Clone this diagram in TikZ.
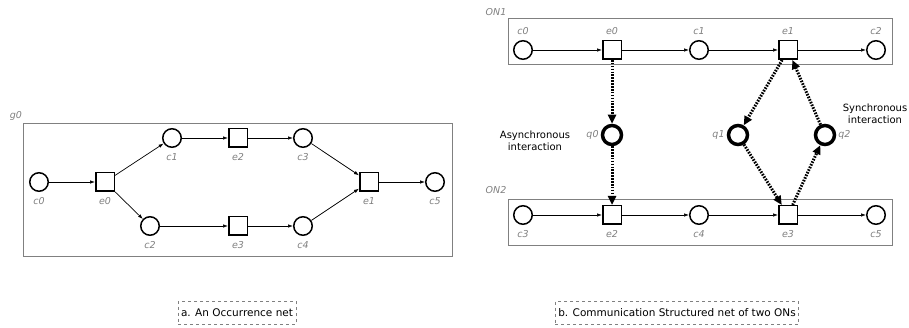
\documentclass[tikz,border=0pt]{standalone}
\usepackage{fontspec}
\setmainfont{DejaVu Sans}
\usetikzlibrary{arrows.meta}
\tikzset{
	place/.style = {circle, draw, line width=1.5pt, minimum size=18.5pt, inner sep=0pt},
	qplace/.style = {place, line width=3.5pt, minimum size=19pt},
	event/.style = {rectangle, draw, line width=1.5pt, minimum size=18.5pt, inner sep=0pt},
	lab/.style = {font=\fontsize{9.5}{10}\selectfont\itshape, text=gray, inner sep=1pt},
	flow/.style = {-{Latex[length=5pt,width=3.5pt]}, line width=0.7pt},
	msg/.style = {-{Triangle[length=9pt,width=8pt]}, line width=3pt, dash pattern=on 1.6pt off 1.3pt},
	net/.style = {draw=gray, line width=0.8pt},
	caption/.style = {draw=gray, dashed, line width=0.6pt, inner xsep=3pt, minimum height=23pt, font=\fontsize{10.5}{12}\selectfont},
	talk/.style = {align=center, inner sep=0pt, font=\fontsize{10}{11.5}\selectfont}
}
\begin{document}
\begin{tikzpicture}[x=1pt, y=-1pt, label distance=4pt]
	\useasboundingbox (0,0) rectangle (909,328);
	%\draw [help lines, step=50] (0,0) grid (909,328);

	% a. occurrence net
	\draw [net] (23,123) rectangle (452,256);
	\node [lab] (g0) at (16,116) {g0};
	\node [place, label={[lab]below:c0}] (gc0) at (39,182) {};
	\node [event, label={[lab]below:e0}] (ge0) at (105,182) {};
	\node [place, label={[lab]below:c1}] (gc1) at (172,138) {};
	\node [event, label={[lab]below:e2}] (ge2) at (238,138) {};
	\node [place, label={[lab]below:c3}] (gc3) at (303,138) {};
	\node [place, label={[lab]below:c2}] (gc2) at (150,226) {};
	\node [event, label={[lab]below:e3}] (ge3) at (238,226) {};
	\node [place, label={[lab]below:c4}] (gc4) at (303,226) {};
	\node [event, label={[lab]below:e1}] (ge1) at (369,182) {};
	\node [place, label={[lab]below:c5}] (gc5) at (435,182) {};
	\draw [flow] (gc0) -- (ge0);
	\draw [flow] (ge0) -- (gc1);
	\draw [flow] (ge0) -- (gc2);
	\draw [flow] (gc1) -- (ge2);
	\draw [flow] (ge2) -- (gc3);
	\draw [flow] (gc2) -- (ge3);
	\draw [flow] (ge3) -- (gc4);
	\draw [flow] (gc3) -- (ge1);
	\draw [flow] (gc4) -- (ge1);
	\draw [flow] (ge1) -- (gc5);
	\node [caption] (capa) at (237,313) {a. An Occurrence net};

	% b. two ONs
	\draw [net] (508,18) rectangle (892,64);
	\node [lab] (on1) at (496,12) {ON1};
	\node [place, label={[lab]above:c0}] (c0) at (523,50) {};
	\node [event, label={[lab]above:e0}] (e0) at (612,50) {};
	\node [place, label={[lab]above:c1}] (c1) at (699,50) {};
	\node [event, label={[lab]above:e1}] (e1) at (788,50) {};
	\node [place, label={[lab]above:c2}] (c2) at (876,50) {};
	\draw [flow] (c0) -- (e0);
	\draw [flow] (e0) -- (c1);
	\draw [flow] (c1) -- (e1);
	\draw [flow] (e1) -- (c2);

	\draw [net] (508,199) rectangle (892,245);
	\node [lab] (on2) at (496,190) {ON2};
	\node [place, label={[lab]below:c3}] (c3) at (523,215) {};
	\node [event, label={[lab]below:e2}] (e2) at (612,215) {};
	\node [place, label={[lab]below:c4}] (c4) at (699,215) {};
	\node [event, label={[lab]below:e3}] (e3) at (788,215) {};
	\node [place, label={[lab]below:c5}] (c5) at (876,215) {};
	\draw [flow] (c3) -- (e2);
	\draw [flow] (e2) -- (c4);
	\draw [flow] (c4) -- (e3);
	\draw [flow] (e3) -- (c5);

	\node [qplace, label={[lab, label distance=1pt]left:q0}] (q0) at (612,135) {};
	\node [qplace, label={[lab, label distance=1pt]left:q1}] (q1) at (738,135) {};
	\node [qplace, label={[lab, label distance=1pt]right:q2}] (q2) at (825,135) {};
	\draw [msg] (e0) -- (q0);
	\draw [msg] (q0) -- (e2);
	\draw [msg] (e1) -- (q1);
	\draw [msg] (q1) -- (e3);
	\draw [msg] (e3) -- (q2);
	\draw [msg] (q2) -- (e1);
	\node [talk] (async) at (535,141) {Asynchronous\\interaction};
	\node [talk] (sync) at (875,114) {Synchronous\\interaction};
	\node [caption] (capb) at (677,313) {b. Communication Structured net of two ONs};
\end{tikzpicture}
\end{document}
